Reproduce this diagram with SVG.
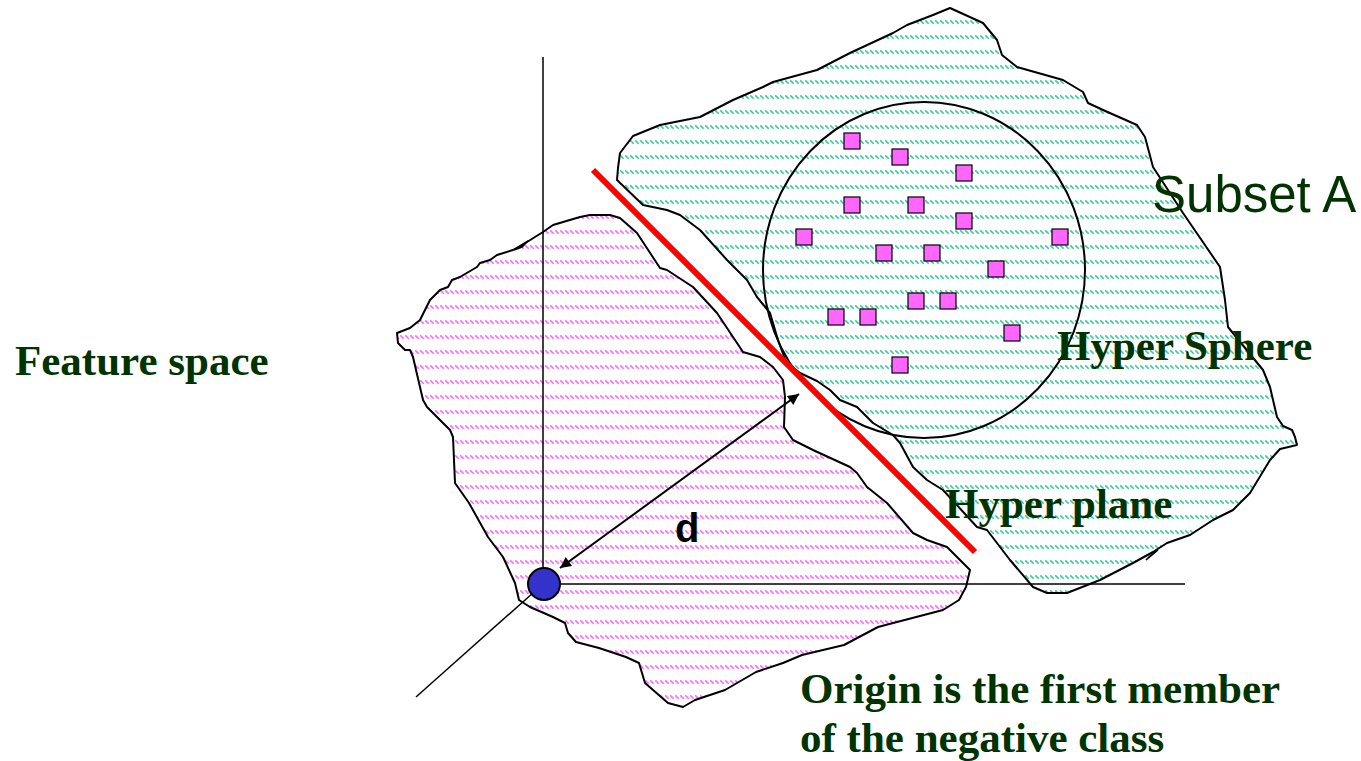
<svg xmlns="http://www.w3.org/2000/svg" width="1361" height="761" viewBox="0 0 1361 761">
<defs>
<pattern id="hatchG" width="5" height="15" patternUnits="userSpaceOnUse"><path d="M0.3,5.3 L3.7,8.7" stroke="#33cc99" stroke-width="1.6"/></pattern>
<pattern id="hatchP" width="5" height="15" patternUnits="userSpaceOnUse"><path d="M0.3,5.3 L3.7,8.7" stroke="#ff66ff" stroke-width="1.6"/></pattern>
<marker id="ah" viewBox="0 0 10 10" refX="10" refY="5" markerWidth="15" markerHeight="11" markerUnits="userSpaceOnUse" orient="auto-start-reverse"><path d="M0,0 L10,5 L0,10 z" fill="#000"/></marker>
</defs>
<style>
.blob{stroke:#000;stroke-width:2;stroke-linejoin:round}
.ax{stroke:#000;stroke-width:1.5;fill:none}
.sq{fill:#ff66ff;stroke:#000;stroke-width:1.2}
.lbl{font-family:"Liberation Serif","Times New Roman",serif;font-weight:bold;font-size:43px;fill:#003300}
</style>
<rect width="1361" height="761" fill="#fff"/>
<g id="subsetA">
<path class="blob" fill="url(#hatchG)" d="M617,180 L618,168 L620,153 L633,136 L660,125 L700,117 L733,100 L763,87 L773,82 L817,70 L850,53 L893,33 L907,25 L933,15 L950,8 L983,23 L997,40 L1002,55 L1017,67 L1063,80 L1083,92 L1088,103 L1103,110 L1137,125 L1145,137 L1153,167 L1183,213 L1220,267 L1225,300 L1228,327 L1263,370 L1270,387 L1277,417 L1283,426 L1292,430 L1295,437 L1297,445 L1280,449 L1270,460 L1250,493 L1233,510 L1213,520 L1190,535 L1167,543 L1153,552 L1133,563 L1100,580 L1067,593 L1047,593 L1033,587 L1010,560 L987,530 L977,527 L943,490 L927,480 L913,467 L900,443 L893,435 L873,423 L857,407 L840,400 L830,390 L817,381 L800,373 L786,362 L778,340 L770,313 L757,297 L747,280 L727,260 L700,230 L680,215 L667,210 L643,205 Z"/>
<path d="M1146,560 L1158,550 L1150,556 Z" stroke="#000" stroke-width="1.5"/>
</g>
<g id="negative">
<path class="blob" fill="url(#hatchP)" d="M397,333 L410,328 L420,320 L430,300 L440,290 L448,287 L452,280 L460,277 L477,267 L480,263 L490,260 L497,255 L513,250 L527,242 L543,232 L553,225 L580,217 L590,215 L610,215 L620,218 L637,233 L660,268 L667,270 L693,287 L717,313 L733,337 L743,352 L760,357 L773,367 L783,380 L785,397 L784,427 L793,440 L813,450 L850,467 L857,473 L867,487 L887,503 L913,533 L927,540 L947,547 L957,557 L970,570 L966,587 L959,600 L943,610 L897,622 L878,627 L844,645 L802,655 L783,663 L756,672 L725,690 L695,700 L683,707 L668,703 L645,683 L639,663 L626,657 L599,648 L576,642 L568,633 L565,623 L553,617 L530,607 L519,600 L515,583 L503,557 L488,537 L469,503 L455,483 L453,437 L450,430 L427,407 L423,400 L413,357 L410,350 L405,350 L398,343 Z"/>
<path d="M514,250 L528,241 L522,247 Z" stroke="#000" stroke-width="1.5"/>
</g>
<g id="hypersphere">
<ellipse cx="924" cy="270" rx="161" ry="168" fill="none" stroke="#000" stroke-width="2"/>
<rect class="sq" x="844" y="133" width="16" height="16"/>
<rect class="sq" x="892" y="149" width="16" height="16"/>
<rect class="sq" x="956" y="165" width="16" height="16"/>
<rect class="sq" x="844" y="197" width="16" height="16"/>
<rect class="sq" x="908" y="197" width="16" height="16"/>
<rect class="sq" x="956" y="213" width="16" height="16"/>
<rect class="sq" x="796" y="229" width="16" height="16"/>
<rect class="sq" x="1052" y="229" width="16" height="16"/>
<rect class="sq" x="876" y="245" width="16" height="16"/>
<rect class="sq" x="924" y="245" width="16" height="16"/>
<rect class="sq" x="988" y="261" width="16" height="16"/>
<rect class="sq" x="908" y="293" width="16" height="16"/>
<rect class="sq" x="940" y="293" width="16" height="16"/>
<rect class="sq" x="828" y="309" width="16" height="16"/>
<rect class="sq" x="860" y="309" width="16" height="16"/>
<rect class="sq" x="1004" y="325" width="16" height="16"/>
<rect class="sq" x="892" y="357" width="16" height="16"/>
</g>
<g id="connectors">
<line class="ax" x1="543" y1="57" x2="543" y2="584"/>
<line class="ax" x1="543" y1="584" x2="1185" y2="584"/>
<line class="ax" x1="543" y1="584" x2="416" y2="697"/>
<line x1="560" y1="568" x2="799" y2="394" stroke="#000" stroke-width="2" marker-start="url(#ah)" marker-end="url(#ah)"/>
</g>
<g id="hyperplane">
<line x1="593" y1="170" x2="975" y2="552" stroke="#ff0000" stroke-width="6"/>
</g>
<g id="origin">
<circle cx="544" cy="584" r="16" fill="#3333cc" stroke="#000" stroke-width="2"/>
</g>
<g id="labels">
<text class="lbl" x="15" y="375">Feature space</text>
<text class="lbl" x="1057" y="360">Hyper Sphere</text>
<text class="lbl" x="945" y="518">Hyper plane</text>
<text class="lbl" x="800" y="703">Origin is the first member</text>
<text class="lbl" x="800" y="752">of the negative class</text>
<text x="1152" y="212" font-family="'Liberation Sans',Arial,sans-serif" font-size="51" fill="#003300">Subset A</text>
<text x="675" y="542" font-family="'Liberation Sans',Arial,sans-serif" font-weight="bold" font-size="40" fill="#000">d</text>
</g>
</svg>
